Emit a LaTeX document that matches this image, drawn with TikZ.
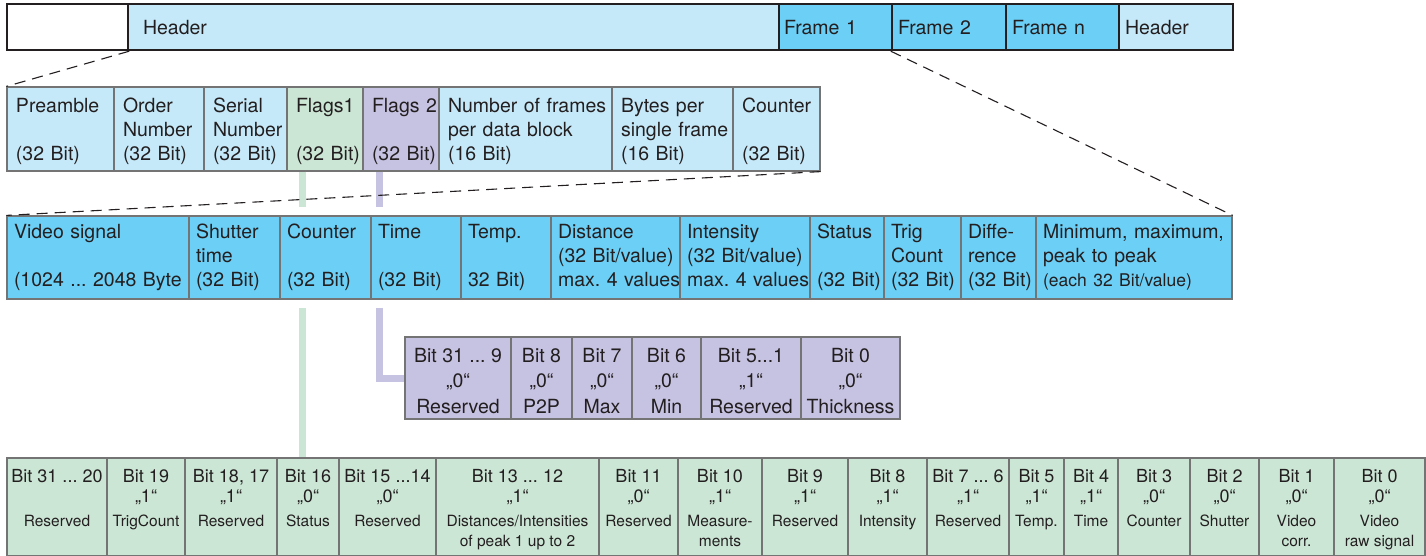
\documentclass[tikz,border=0pt]{standalone}
\usepackage{fontspec}
\setmainfont{TeX Gyre Heros}
\usepackage{xcolor}
\usetikzlibrary{calc}
\definecolor{ink}{HTML}{231F20}
\definecolor{gridline}{HTML}{747474}
\definecolor{hdblue}{HTML}{C6E9F9}
\definecolor{frblue}{HTML}{6CCFF6}
\definecolor{flagsa}{HTML}{CCE6D5}
\definecolor{flagsb}{HTML}{C6C2E1}
\frenchspacing

% struts that fix the baselines of the cell texts
\newcommand\hdstrut{\rule[-5pt]{0pt}{24pt}}
\newcommand\frstrut{\rule[-7.5pt]{0pt}{24pt}}
\newcommand\fbstrut{\rule[-2pt]{0pt}{23pt}}
\newcommand\fastrut{\rule[-4pt]{0pt}{20pt}}
\newcommand\fatopstrut{\rule[-4pt]{0pt}{22pt}}
\newcommand\lblfont{\fontsize{15.5pt}{20pt}\selectfont}
\newcommand\threedots{...}

\tikzset{
  cell/.style={draw=gridline, line width=1.2pt, inner sep=0pt, text=ink},
  barcell/.style={draw=ink, line width=2.4pt, inner sep=0pt, minimum height=46, text=ink, align=left, text height=14pt, text depth=0pt, font=\fontsize{19.5pt}{24pt}\selectfont},
  hdcell/.style={cell, minimum height=84, align=left, font=\fontsize{19.5pt}{24pt}\selectfont},
  frcell/.style={cell, fill=frblue, minimum height=83, align=left, font=\fontsize{19.5pt}{24pt}\selectfont},
  fbcell/.style={cell, fill=flagsb, minimum height=82, align=center, font=\fontsize{19.5pt}{25.5pt}\selectfont},
  facell/.style={cell, fill=flagsa, minimum height=98, align=center, font=\fontsize{18pt}{20pt}\selectfont},
  zoomline/.style={ink, line width=1.1pt, dash pattern=on 11pt off 7pt},
  flagline/.style={line width=7pt},
}

\begin{document}
\begin{tikzpicture}[x=1pt, y=-1pt]
  \useasboundingbox (0,0) rectangle (1426,555);

  % data stream
  \foreach \xa/\xb/\col/\pad/\txt [count=\i] in {7/128/white/10/{}, 128/779/hdblue/15/Header, 779/892/frblue/5/Frame 1, 892/1006/frblue/6/Frame 2, 1006/1119/frblue/6/Frame n, 1119/1233/hdblue/6/Header}
  {
    \pgfmathsetmacro\w{\xb-\xa}
    \pgfmathsetmacro\tw{\xb-\xa-2*\pad}
    \node[barcell, fill=\col, minimum width=\w, text width=\tw pt] (tb\i) at ({(\xa+\xb)/2},27) {\txt};
  }

  % header
  \foreach \xa/\xb/\col/\la/\lb/\lc [count=\i] in {
    7/114/hdblue/Preamble//(32 Bit),
    114/204/hdblue/Order/Number/(32 Bit),
    204/287/hdblue/Serial/Number/(32 Bit),
    287/363/flagsa/Flags1//(32 Bit),
    363/439/flagsb/Flags 2//(32 Bit),
    439/612/hdblue/Number of frames/per data block/(16 Bit),
    612/733/hdblue/Bytes per/single frame/(16 Bit),
    733/820/hdblue/Counter//(32 Bit)}
  {
    \pgfmathsetmacro\w{\xb-\xa}
    \pgfmathsetmacro\tw{\xb-\xa-18}
    \node[hdcell, fill=\col, minimum width=\w, text width=\tw pt] (hd\i) at ({(\xa+\xb)/2},129)
      {\mbox{\hdstrut\la}\\\mbox{\hdstrut\lb}\\\mbox{\hdstrut\lc}};
  }

  % frame
  \foreach \xa/\xb/\la/\lb/\lc [count=\i] in {
    7/189/Video signal//(1024 \threedots\ 2048 Byte,
    189/280/Shutter/time/(32 Bit),
    280/371/Counter//(32 Bit),
    371/461/Time//(32 Bit),
    461/551/Temp.//32 Bit),
    551/680/Distance/{(32 Bit/value)}/max. 4 values,
    680/810/Intensity/{(32 Bit/value)}/max. 4 values,
    810/884/Status//(32 Bit),
    884/961/Trig/Count/(32 Bit),
    961/1036/Diffe-/rence/(32 Bit),
    1036/1232/{Minimum, maximum,}/peak to peak/{\fontsize{17.5pt}{24pt}\selectfont(each 32 Bit/value)}}
  {
    \pgfmathsetmacro\w{\xb-\xa}
    \pgfmathsetmacro\tw{\xb-\xa-14}
    \node[frcell, minimum width=\w, text width=\tw pt] (fr\i) at ({(\xa+\xb)/2},257.5)
      {\mbox{\frstrut\la}\\\mbox{\frstrut\lb}\\\mbox{\frstrut\lc}};
  }

  % flags 2
  \foreach \xa/\xb/\la/\lb/\lc [count=\i] in {
    405/511/Bit 31 \threedots\ 9/„0“/Reserved,
    511/572/Bit 8/„0“/P2P,
    572/632/Bit 7/„0“/Max,
    632/701/Bit 6/„0“/Min,
    701/801/Bit 5\threedots1/„1“/Reserved,
    801/900/Bit 0/„0“/Thickness}
  {
    \pgfmathsetmacro\w{\xb-\xa}
    \node[fbcell, minimum width=\w] (fb\i) at ({(\xa+\xb)/2},378)
      {\fbstrut\la\\\fbstrut\lb\\\fbstrut\lc};
  }

  % flags 1
  \foreach \xa/\xb/\la/\lb/\lc/\ld [count=\i] in {
    7/107/Bit 31 \threedots\ 20//Reserved/,
    107/185/Bit 19/„1“/TrigCount/,
    185/277/{Bit 18, 17}/„1“/Reserved/,
    277/339/Bit 16/„0“/Status/,
    339/436/Bit 15 \threedots14/„0“/Reserved/,
    436/599/Bit 13 \threedots\ 12/„1“/{Distances/Intensities}/of peak 1 up to 2,
    599/678/Bit 11/„0“/Reserved/,
    678/762/Bit 10/„1“/Measure-/ments,
    762/848/Bit 9/„1“/Reserved/,
    848/927/Bit 8/„1“/Intensity/,
    927/1009/Bit 7 \threedots\ 6/„1“/Reserved/,
    1009/1064/Bit 5/„1“/Temp./,
    1064/1118/Bit 4/„1“/Time/,
    1118/1190/Bit 3/„0“/Counter/,
    1190/1259/Bit 2/„0“/Shutter/,
    1259/1334/Bit 1/„0“/Video/corr.,
    1334/1425/Bit 0/„0“/Video/raw signal}
  {
    \pgfmathsetmacro\w{\xb-\xa}
    \node[facell, minimum width=\w] (fa\i) at ({(\xa+\xb)/2},507)
      {\fatopstrut\la\\\fastrut\lb\\[4pt]\fastrut{\lblfont\lc}\\\fastrut{\lblfont\ld}};
  }

  % flag connectors, broken round the frame
  \coordinate (fl1) at ([xshift=16pt]hd4.south west);
  \coordinate (fl2) at ([xshift=17pt]hd5.south west);
  \draw[flagline, flagsa] (fl1) -- ($(fl1 |- fr1.north)+(0,-8)$);
  \draw[flagline, flagsa] ($(fl1 |- fr1.south)+(0,8)$) -- (fl1 |- fa1.north);
  \draw[flagline, flagsb] (fl2) -- ($(fl2 |- fr1.north)+(0,-8)$);
  \draw[flagline, flagsb] ($(fl2 |- fr1.south)+(0,8)$) |- (fb1.west);

  % zoom lines
  \draw[zoomline] (tb1.south east) -- (hd1.north west);
  \draw[zoomline] (tb4.south west) -- (fr11.north east);
  \draw[zoomline] (hd8.south east) -- (fr1.north west);
\end{tikzpicture}
\end{document}
